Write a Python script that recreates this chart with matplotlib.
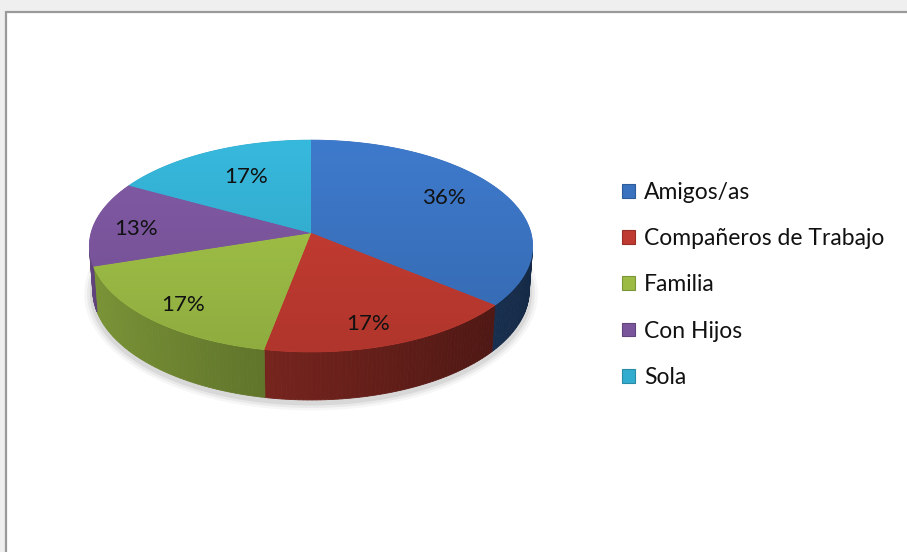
import numpy as np
import matplotlib
matplotlib.use('Agg')
import matplotlib.pyplot as plt
from matplotlib.patches import Polygon, Rectangle, Patch
from matplotlib.colors import to_rgb

# ---- data ----
categories = ['Amigos/as', 'Compañeros de Trabajo', 'Familia', 'Con Hijos', 'Sola']
percentages = [36, 17, 17, 13, 17]
labels = ['36%', '17%', '17%', '13%', '17%']
colors = ['#3a72bf', '#bf3a30', '#9bbb45', '#7a559c', '#33adcf']
# label placement inside each slice (radius fraction, angular fraction)
label_r = [0.72, 0.82, 0.83, 0.8, 0.66]
label_frac = [0.47, 0.55, 0.48, 0.45, 0.53]

plt.rcParams['font.family'] = ['Lato', 'DejaVu Sans']

W, H = 907, 552
fig = plt.figure(figsize=(W / 100, H / 100), dpi=100)
fig.patch.set_facecolor('#efefef')
ax = fig.add_axes([0, 0, 1, 1])
ax.set_xlim(0, W)
ax.set_ylim(H, 0)
ax.axis('off')

ax.add_patch(Rectangle((5.5, 11.5), W, H, facecolor='white',
                       edgecolor='#9a9a9a', lw=1.6, zorder=0))

# ---- simple perspective projection of a cylinder ----
CX, CY = 311, 233
E = np.radians(28.3)
D = 7.17
F = 1577
HGT = 0.231


def proj(X, Y, Z):
    w = D + Y * np.cos(E) - Z * np.sin(E)
    v = Y * np.sin(E) + Z * np.cos(E)
    return CX + F * X / w, CY - F * v / w


def shade(c, f):
    r = np.clip(np.array(to_rgb(c)) * f, 0, 1)
    return tuple(r)


total = float(sum(percentages))
bounds = np.concatenate([[0], np.cumsum(percentages)]) / total * 360.0

# soft shadow beneath the pie
tt = np.radians(np.linspace(0, 360, 361))
sx, sy = proj(np.sin(tt), np.cos(tt), -HGT)
for k, a in zip([9, 6, 3], [0.035, 0.05, 0.07]):
    cxm, cym = sx.mean(), sy.mean()
    px = cxm + (sx - cxm) * (1 + k / 230.0)
    py = cym + (sy - cym) * (1 + k / 140.0) + 3
    ax.add_patch(Polygon(list(zip(px, py)), closed=True, facecolor='black',
                         edgecolor='none', alpha=a, zorder=1))

thr = 1.0 / (D * np.cos(E))
vis0 = np.degrees(np.arccos(-thr))
vis1 = 360 - vis0

# side walls
for i, c in enumerate(colors):
    a0, a1 = max(bounds[i], vis0), min(bounds[i + 1], vis1)
    if a1 <= a0:
        continue
    n = max(2, int((a1 - a0) / 1.0) + 1)
    aa = np.linspace(a0, a1, n)
    for j in range(n - 1):
        t = np.radians(np.array([aa[j], aa[j + 1]]))
        X, Y = np.sin(t), np.cos(t)
        xt, yt = proj(X, Y, 0)
        xb, yb = proj(X, Y, -HGT)
        xm = np.sin(np.radians((aa[j] + aa[j + 1]) / 2))
        col = shade(c, 0.58 - 0.22 * xm)
        poly = Polygon([(xt[0], yt[0]), (xt[1], yt[1]), (xb[1], yb[1]), (xb[0], yb[0])],
                       closed=True, facecolor=col, edgecolor=col, lw=0.6, zorder=2)
        ax.add_patch(poly)

# top faces with vertical gradient
ytop, ybot = 138, 356
for i, c in enumerate(colors):
    aa = np.radians(np.linspace(bounds[i], bounds[i + 1], 200))
    xs, ys = proj(np.sin(aa), np.cos(aa), 0)
    pts = [(CX, CY)] + list(zip(xs, ys))
    base = Polygon(pts, closed=True, facecolor=c, edgecolor=c, lw=0.6, zorder=3)
    ax.add_patch(base)
    g = np.linspace(1.07, 0.92, 100)[:, None, None]
    img = np.clip(np.array(to_rgb(c))[None, None, :] * g, 0, 1)
    img = np.repeat(img, 2, axis=1)
    im = ax.imshow(img, extent=(80, 545, ybot, ytop), aspect='auto',
                   zorder=4, interpolation='bilinear')
    clip = Polygon(pts, closed=True, transform=ax.transData)
    im.set_clip_path(clip)

ax.set_xlim(0, W)
ax.set_ylim(H, 0)

# data labels
for i, lab in enumerate(labels):
    am = np.radians(bounds[i] + label_frac[i] * (bounds[i + 1] - bounds[i]))
    x, y = proj(label_r[i] * np.sin(am), label_r[i] * np.cos(am), 0)
    ax.text(x, y, lab, ha='center', va='center', fontsize=16, color='#111111', zorder=6)

# legend
handles = [Patch(facecolor=c, edgecolor=shade(c, 0.8), lw=0.8) for c in colors]
fig.legend(handles, categories, loc='upper left',
           bbox_to_anchor=(622 / W, 1 - 182 / H), frameon=False,
           fontsize=16.5, handlelength=0.55, handleheight=0.55, handletextpad=0.42,
           labelspacing=1.1, borderpad=0, borderaxespad=0, labelcolor='#111111')

fig.savefig('out.png', dpi=100, facecolor=fig.get_facecolor())
